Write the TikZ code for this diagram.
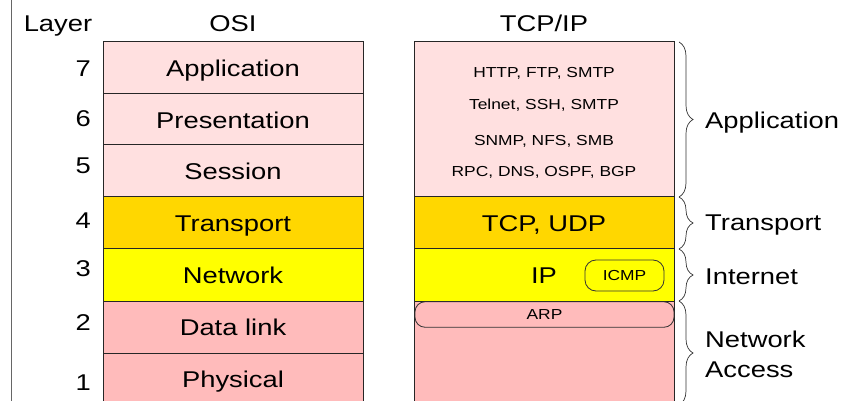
\documentclass[tikz,border=0pt]{standalone}
\usepackage{fontspec}
\setmainfont[FakeStretch=1.2]{Liberation Sans}
\usetikzlibrary{decorations.pathreplacing}
\definecolor{upperpink}{HTML}{FFE0E0}
\definecolor{transcol}{HTML}{FFD700}
\definecolor{netcol}{HTML}{FFFF00}
\definecolor{lowerpink}{HTML}{FFBBBB}
\tikzset{
  big/.style={font=\fontsize{22.8}{26}\selectfont, inner sep=0pt, text height=16.3pt, text depth=0pt},
  small/.style={font=\fontsize{14.5}{17}\selectfont, inner sep=0pt, text height=10.4pt, text depth=0pt},
  layerbox/.style={draw=black!85, line width=1pt},
  pill/.style={draw=black!80, line width=0.8pt, rounded corners=11pt},
  bracket/.style={decorate, decoration={brace, amplitude=14pt}, draw=black!80, line width=0.7pt}
}
\begin{document}
\begin{tikzpicture}[x=1pt, y=-1pt]
\useasboundingbox (0,0) rectangle (855,401);
\clip (0,0) rectangle (855,401);
\draw [black!60, line width=1.2pt] (11.5,0) -- (11.5,401);
\node [big] (layerhead) at (58,23.5) {Layer};
\node [big] (osihead) at (233,23.5) {OSI};
\node [big] (tcphead) at (544,23.5) {TCP/IP};
\filldraw [layerbox, fill=upperpink] (103,42) rectangle (363,94);
\filldraw [layerbox, fill=upperpink] (103,94) rectangle (363,145);
\filldraw [layerbox, fill=upperpink] (103,145) rectangle (363,197);
\filldraw [layerbox, fill=transcol] (103,197) rectangle (363,249);
\filldraw [layerbox, fill=netcol] (103,249) rectangle (363,301);
\filldraw [layerbox, fill=lowerpink] (103,301) rectangle (363,353);
\filldraw [layerbox, fill=lowerpink] (103,353) rectangle (363,405);
\node [big] (osi7) at (233,68) {Application};
\node [big] (osi6) at (233,120) {Presentation};
\node [big] (osi5) at (233,171) {Session};
\node [big] (osi4) at (233,223) {Transport};
\node [big] (osi3) at (233,275) {Network};
\node [big] (osi2) at (233,327) {Data link};
\node [big] (osi1) at (233,379) {Physical};
\node [big, anchor=east] (num7) at (91,68) {7};
\node [big, anchor=east] (num6) at (91,118) {6};
\node [big, anchor=east] (num5) at (91,165) {5};
\node [big, anchor=east] (num4) at (91,220) {4};
\node [big, anchor=east] (num3) at (91,268) {3};
\node [big, anchor=east] (num2) at (91,322) {2};
\node [big, anchor=east] (num1) at (91,382) {1};
\filldraw [layerbox, fill=upperpink] (414,42) rectangle (674,197);
\filldraw [layerbox, fill=transcol] (414,197) rectangle (674,249);
\filldraw [layerbox, fill=netcol] (414,249) rectangle (674,301);
\filldraw [layerbox, fill=lowerpink] (414,301) rectangle (674,405);
\node [small] (http) at (544,72) {HTTP, FTP, SMTP};
\node [small] (telnet) at (544,104) {Telnet, SSH, SMTP};
\node [small] (snmp) at (544,140) {SNMP, NFS, SMB};
\node [small] (rpc) at (544,171) {RPC, DNS, OSPF, BGP};
\node [big] (tcpudp) at (544,223) {TCP, UDP};
\node [big] (ip) at (544,275.5) {IP};
\node [small, pill, minimum width=79pt, minimum height=31pt] (icmp) at (624.5,275.5) {ICMP};
\node [small, pill, rounded corners=10pt, minimum width=259pt, minimum height=25.5pt] (arp) at (544.5,314.5) {ARP};
\draw [bracket] (679,42) -- (679,197);
\draw [bracket] (679,197) -- (679,249);
\draw [bracket] (679,249) -- (679,301);
\draw [bracket] (679,301) -- (679,405);
\node [big, anchor=west] (applbl) at (705,120) {Application};
\node [big, anchor=west] (translbl) at (705,222) {Transport};
\node [big, anchor=west] (inetlbl) at (705,276) {Internet};
\node [big, anchor=west] (netlbl) at (705,339) {Network};
\node [big, anchor=west] (acclbl) at (705,369) {Access};
\end{tikzpicture}
\end{document}
